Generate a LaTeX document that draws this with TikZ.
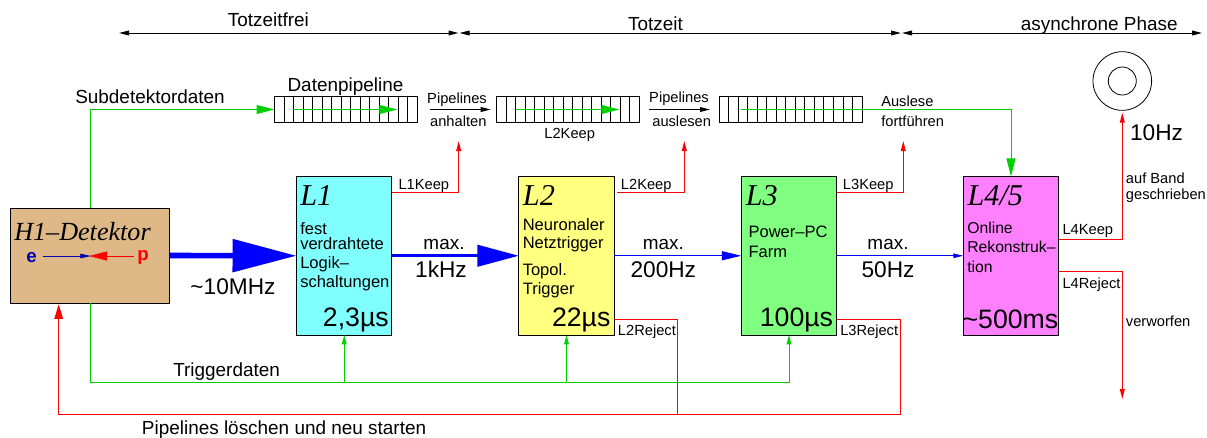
\documentclass[tikz,border=0pt]{standalone}
\usepackage{fontspec}
\setmainfont{Liberation Sans}
\newfontfamily\titlefont[ItalicFont=Liberation Serif Italic]{Liberation Serif}
\usetikzlibrary{arrows.meta, positioning, calc}

\definecolor{trgreen}{HTML}{00D000}
\definecolor{detbrown}{HTML}{DEB887}
\definecolor{elecblue}{HTML}{0000B4}
\definecolor{lonecol}{HTML}{80FFFF}
\definecolor{ltwocol}{HTML}{FFFF80}
\definecolor{lthreecol}{HTML}{80FF80}
\definecolor{lfourcol}{HTML}{FF80FF}

\tikzset{
  level/.style={draw, line width=0.75pt, outer sep=0pt, minimum width=71.6pt, minimum height=118.9pt},
  pipe/.style={draw, line width=0.75pt, outer sep=0pt, minimum width=107.25pt, minimum height=19.5pt},
  wire/.style={line width=0.75pt},
  lab/.style={inner sep=0pt, anchor=base west, font=\fontsize{11}{13}\selectfont},
  labc/.style={lab, anchor=base},
  txt/.style={inner sep=0pt, anchor=base west, font=\fontsize{12.4}{14}\selectfont},
  txtb/.style={txt, font=\fontsize{11.8}{14}\selectfont},
  head/.style={inner sep=0pt, anchor=base west, font=\fontsize{14.2}{16}\selectfont},
  rate/.style={inner sep=0pt, anchor=base, font=\fontsize{17}{19}\selectfont},
  ttime/.style={inner sep=0pt, anchor=base east, font=\fontsize{20}{22}\selectfont},
  ttl/.style={inner sep=0pt, anchor=base west, font=\titlefont\itshape\fontsize{22.7}{25}\selectfont},
  gbig/.style={wire, trgreen, -{Triangle[length=13.5pt,width=6.75pt]}},
  gsmall/.style={wire, trgreen, -{Triangle[length=7pt,width=3.6pt]}},
  rsmall/.style={wire, red, -{Triangle[length=7.5pt,width=3.6pt]}},
  blk/.style={wire, black, -{Triangle[length=7.5pt,width=3.6pt]}},
  span/.style={wire, black, {Triangle[length=7.5pt,width=3.6pt]}-{Triangle[length=7.5pt,width=3.6pt]}},
}

\begin{document}
\begin{tikzpicture}[x=0.75pt, y=-0.75pt]
  \useasboundingbox (0,0) rectangle (1207,437);

  % Detector and trigger levels
  \node[draw, line width=0.75pt, outer sep=0pt, fill=detbrown, minimum width=119.25pt, minimum height=71.25pt]
    (h1) at (90,255.5) {};
  \node[level, fill=lonecol] (l1) at (344.25,255.75) {};
  \node[level, fill=ltwocol] (l2) at (566.5,255.75) {};
  \node[level, fill=lthreecol] (l3) at (789,255.75) {};
  \node[level, fill=lfourcol] (l4) at (1011,255.75) {};

  % Pipelines
  \node[pipe] (pipe1) at (346,109.5) {};
  \node[pipe] (pipe2) at (568,109.5) {};
  \node[pipe] (pipe3) at (790.6,109.5) {};
  \foreach \p in {pipe1,pipe2,pipe3} {
    \foreach \k in {1,...,14} {
      \draw[line width=0.75pt] ($(\p.north west)+(\k*9.533,0)$) -- ($(\p.south west)+(\k*9.533,0)$);
    }
  }

  % Tape
  \node[draw, circle, line width=0.6pt, minimum size=44pt, inner sep=0pt] (tape) at (1122.3,81) {};
  \node[draw, circle, line width=0.6pt, minimum size=21pt, inner sep=0pt] (hub) at (1122.3,81) {};

  % Phases
  \coordinate (ph0) at (119,33);
  \coordinate (ph1) at (458.5,33);
  \coordinate (ph2) at (459.5,33);
  \coordinate (ph3) at (901,33);
  \coordinate (ph4) at (902,33);
  \coordinate (ph5) at (1202,33);
  \draw[span] (ph0) -- (ph1);
  \draw[span] (ph2) -- (ph3);
  \draw[span] (ph4) -- (ph5);

  % Rates
  \draw[blue, line width=4.2pt, -{Triangle[length=48pt,width=24pt]}] (h1.east) -- (l1.west);
  \draw[blue, line width=2.25pt, -{Triangle[length=31pt,width=16pt]}] (l1.east) -- (l2.west);
  \draw[blue, line width=0.75pt, -{Triangle[length=14.5pt,width=6.75pt]}] (l2.east) -- (l3.west);
  \draw[blue, line width=0.75pt, -{Triangle[length=7.5pt,width=3.4pt]}] (l3.east) -- (l4.west);

  % Data path
  \coordinate (in1) at (293.3,109.5);
  \coordinate (out1) at (397.3,109.5);
  \coordinate (in2) at (515.7,109.5);
  \coordinate (out2) at (619.3,109.5);
  \coordinate (in3) at (741,109.5);
  \draw[gbig] (h1.north) |- (pipe1.west);
  \draw[gbig] (in1) -- (out1);
  \draw[gbig] (in2) -- (out2);
  \draw[gbig] (in3) -| (l4.north);

  % Pipeline control
  \coordinate (a1) at (430,109.5);
  \coordinate (b1) at (490.7,109.5);
  \coordinate (a2) at (649,109.5);
  \coordinate (b2) at (710,109.5);
  \draw[blk] (a1) -- (b1);
  \draw[blk] (a2) -- (b2);

  % Trigger data
  \coordinate (trg) at (90,382.3);
  \draw[gsmall] (h1.south) |- (l3.south |- trg) -- (l3.south);
  \draw[gsmall] (l1.south |- trg) -- (l1.south);
  \draw[gsmall] (l2.south |- trg) -- (l2.south);

  % Keep signals
  \coordinate (k1) at (392,192);
  \coordinate (e1) at (458.7,141);
  \coordinate (k2) at (617,192);
  \coordinate (e2) at (684.3,141);
  \coordinate (k3) at (836.7,192);
  \coordinate (e3) at (903.3,141);
  \coordinate (k4) at (1058.7,239.3);
  \coordinate (e4) at (1122.3,112.7);
  \foreach \a/\b in {k1/e1, k2/e2, k3/e3, k4/e4} {
    \draw[rsmall] (\a) -| (\b);
  }

  % Reject signals
  \coordinate (r2) at (614.3,319);
  \coordinate (c2) at (677.7,414.3);
  \coordinate (r3) at (836.7,319);
  \coordinate (c3) at (900,414.3);
  \coordinate (r4) at (1058.7,271.3);
  \coordinate (e5) at (1122.3,399);
  \coordinate (e6) at (58.7,304.3);
  \draw[wire, red] (r2) -| (c2);
  \draw[wire, red, -{Triangle[length=11pt,width=6.5pt]}] (r3) -| (c3) -| (e6);
  \draw[rsmall] (r4) -| (e5);

  % Detector texts
  \node[inner sep=0pt, anchor=base west, font=\titlefont\itshape\fontsize{19.6}{21}\selectfont] (h1name) at (14,240) {H1–Detektor};
  \node[inner sep=0pt, anchor=base, font=\bfseries\fontsize{14}{16}\selectfont, text=elecblue] (elec) at (31.5,262) {e};
  \node[inner sep=0pt, anchor=base, font=\bfseries\fontsize{14}{16}\selectfont, text=red] (prot) at (143,260) {p};
  \draw[line width=0.6pt, elecblue, -{Triangle[length=8pt,width=3.4pt]}] (43,256) -- (91,256);
  \draw[line width=0.6pt, red, -{Triangle[length=13.5pt,width=6.75pt]}] (133.5,256) -- (89,256);

  % Box titles
  \foreach \n/\x/\t in {t1/300/L1, t2/522.7/L2, t3/745.6/L3, t4/967.3/{L4/5}} {
    \node[ttl] (\n) at (\x,205.5) {\t};
  }

  % Box texts
  \foreach \n/\x/\y/\t in {
      a1t/300/234/fest, a2t/300/249/verdrahtete, a3t/300/268/Logik–, a4t/300/287.7/schaltungen,
      b1t/522.5/230/Neuronaler, b2t/522.5/248.3/Netztrigger, b3t/522.5/275/Topol., b4t/522.5/294/Trigger,
      c1t/748.3/237.3/Power–PC, c2t/748.3/257.3/Farm} {
    \node[txt] (\n) at (\x,\y) {\t};
  }
  \foreach \n/\y/\t in {d1t/233.7/Online, d2t/252.7/Rekonstruk–, d3t/272/tion} {
    \node[txtb] (\n) at (967,\y) {\t};
  }

  % Times
  \node[ttime] (tm1) at (389,326.5) {2,3µs};
  \node[ttime] (tm2) at (610.7,326.5) {22µs};
  \node[ttime] (tm3) at (833.3,326.5) {100µs};
  \node[ttime] (tm4) at (1058.5,328) {\textasciitilde 500ms};

  % Rate labels
  \node[rate] (rt0) at (233,294) {\textasciitilde 10MHz};
  \node[rate] (rt1) at (441,277.7) {1kHz};
  \node[rate] (rt2) at (663.3,277.7) {200Hz};
  \node[rate] (rt3) at (888,277.7) {50Hz};
  \node[rate] (rt4) at (1156.5,140.7) {10Hz};
  \node[head, anchor=base] (mx1) at (444,249) {max.};
  \node[head, anchor=base] (mx2) at (663.3,249) {max.};
  \node[head, anchor=base] (mx3) at (888,249) {max.};

  % Headings
  \node[head, anchor=base] (ph-a) at (268.3,26.7) {Totzeitfrei};
  \node[head, anchor=base] (ph-b) at (655.5,30) {Totzeit};
  \node[head, anchor=base] (ph-c) at (1099.2,30) {asynchrone Phase};
  \node[head] (sub) at (75,103.3) {Subdetektordaten};
  \node[head] (dat) at (287.3,91) {Datenpipeline};
  \node[head] (trd) at (173,376) {Triggerdaten};
  \node[head] (lsch) at (141.7,434) {Pipelines löschen und neu starten};

  % Small labels
  \node[labc] (pl1) at (457,103.3) {Pipelines};
  \node[labc] (an1) at (458.3,126) {anhalten};
  \node[labc] (pl2) at (679,102.7) {Pipelines};
  \node[labc] (au2) at (681.7,126) {auslesen};
  \node[labc] (kp) at (569.7,138.3) {L2Keep};
  \node[lab] (als) at (881,106) {Auslese};
  \node[lab] (frt) at (881,126) {fortführen};
  \node[lab] (lk1) at (398.3,189) {L1Keep};
  \node[lab] (lk2) at (620.7,189) {L2Keep};
  \node[lab] (lk3) at (842.7,189) {L3Keep};
  \node[lab] (lk4) at (1062.3,234.7) {L4Keep};
  \node[lab] (lr2) at (617.7,335) {L2Reject};
  \node[lab] (lr3) at (840,335) {L3Reject};
  \node[lab] (lr4) at (1062.3,288.3) {L4Reject};
  \node[lab] (bd1) at (1125.7,183) {auf Band};
  \node[lab] (bd2) at (1125.7,199.3) {geschrieben};
  \node[lab] (vw) at (1125.7,326) {verworfen};
\end{tikzpicture}
\end{document}
